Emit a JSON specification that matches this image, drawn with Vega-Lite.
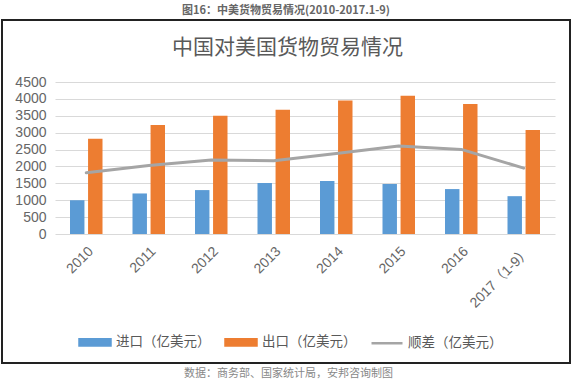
{
  "$schema": "https://vega.github.io/schema/vega-lite/v6.json",
  "autosize": "none",
  "width": 568,
  "height": 343,
  "padding": {"left": 2, "top": 20, "right": 6, "bottom": 20},
  "background": "white",
  "title": {"text": "图16：中美货物贸易情况(2010-2017.1-9)", "fontSize": 11, "fontWeight": "bold", "color": "#666666", "font": "Noto Sans CJK SC", "anchor": "middle", "offset": 4},
  "data": {"values": [
    {"year": "2010", "series": "进口（亿美元）", "value": 1000},
    {"year": "2010", "series": "出口（亿美元）", "value": 2820},
    {"year": "2010", "series": "顺差（亿美元）", "value": 1810},
    {"year": "2011", "series": "进口（亿美元）", "value": 1200},
    {"year": "2011", "series": "出口（亿美元）", "value": 3230},
    {"year": "2011", "series": "顺差（亿美元）", "value": 2030},
    {"year": "2012", "series": "进口（亿美元）", "value": 1300},
    {"year": "2012", "series": "出口（亿美元）", "value": 3500},
    {"year": "2012", "series": "顺差（亿美元）", "value": 2190},
    {"year": "2013", "series": "进口（亿美元）", "value": 1510},
    {"year": "2013", "series": "出口（亿美元）", "value": 3680},
    {"year": "2013", "series": "顺差（亿美元）", "value": 2170},
    {"year": "2014", "series": "进口（亿美元）", "value": 1570},
    {"year": "2014", "series": "出口（亿美元）", "value": 3955},
    {"year": "2014", "series": "顺差（亿美元）", "value": 2380},
    {"year": "2015", "series": "进口（亿美元）", "value": 1480},
    {"year": "2015", "series": "出口（亿美元）", "value": 4090},
    {"year": "2015", "series": "顺差（亿美元）", "value": 2605},
    {"year": "2016", "series": "进口（亿美元）", "value": 1330},
    {"year": "2016", "series": "出口（亿美元）", "value": 3850},
    {"year": "2016", "series": "顺差（亿美元）", "value": 2505},
    {"year": "2017（1-9）", "series": "进口（亿美元）", "value": 1120},
    {"year": "2017（1-9）", "series": "出口（亿美元）", "value": 3080},
    {"year": "2017（1-9）", "series": "顺差（亿美元）", "value": 1950}
  ]},
  "encoding": {
    "x": {
      "field": "year", "type": "ordinal", "sort": null,
      "scale": {"range": [53, 553], "paddingInner": 0.48, "paddingOuter": 0.24},
      "axis": {
        "title": "数据：商务部、国家统计局，安邦咨询制图",
        "titleX": 286, "titleY": 139, "titleAlign": "center", "titleBaseline": "middle",
        "titleFontSize": 11, "titleFontWeight": "normal", "titleColor": "#888888", "titleFont": "Noto Sans CJK SC",
        "offset": -129, "labelAngle": -45, "labelFontSize": 14, "labelColor": "#666666",
        "labelFont": "Liberation Sans, Noto Sans CJK SC", "labelPadding": 10,
        "ticks": false, "tickSize": 0, "domain": false, "grid": false, "labelLimit": 0
      }
    },
    "y": {
      "field": "value", "type": "quantitative",
      "scale": {"domain": [0, 4500], "range": [214, 62], "nice": false, "zero": true},
      "axis": {
        "title": "中国对美国货物贸易情况",
        "titleAngle": 0, "titleX": 232, "titleY": 27, "titleAlign": "center", "titleBaseline": "middle",
        "titleFontSize": 21, "titleFontWeight": "normal", "titleColor": "#595959", "titleFont": "Noto Sans CJK SC",
        "offset": -53, "domain": false, "ticks": false, "tickSize": 0, "labelPadding": 9, "format": "d",
        "labelFontSize": 14, "labelColor": "#666666", "labelFont": "Liberation Sans",
        "values": [0, 500, 1000, 1500, 2000, 2500, 3000, 3500, 4000, 4500],
        "grid": true, "gridColor": "#d9d9d9", "gridWidth": 1
      }
    },
    "color": {
      "field": "series", "type": "nominal",
      "scale": {"domain": ["进口（亿美元）", "出口（亿美元）", "顺差（亿美元）"], "range": ["#5b9bd5", "#ed7d31", "#a5a5a5"]},
      "legend": {
        "title": null, "orient": "none", "direction": "horizontal", "legendX": 76, "legendY": 305,
        "symbolSize": 961, "labelOffset": 4, "columnPadding": 9,
        "labelFontSize": 13.5, "labelColor": "#595959", "labelFont": "Noto Sans CJK SC", "labelLimit": 0,
        "encode": {
          "symbols": {
            "update": {
              "shape": {"signal": "datum.value === '顺差（亿美元）' ? 'M-1,0H1' : 'M-1,-0.2H1V0.2H-1Z'"},
              "fill": {"signal": "datum.value === '顺差（亿美元）' ? 'transparent' : scale('color', datum.value)"},
              "stroke": {"signal": "datum.value === '顺差（亿美元）' ? '#a5a5a5' : 'transparent'"},
              "strokeWidth": {"value": 2.5},
              "opacity": {"value": 1}
            }
          }
        }
      }
    }
  },
  "layer": [
    {
      "transform": [{"filter": "datum.series !== '顺差（亿美元）'"}],
      "mark": {"type": "bar"},
      "encoding": {
        "xOffset": {"field": "series", "type": "nominal", "sort": ["进口（亿美元）", "出口（亿美元）"], "scale": {"paddingInner": 0.2}}
      }
    },
    {
      "transform": [{"filter": "datum.series === '顺差（亿美元）'"}],
      "mark": {"type": "line", "strokeWidth": 3, "strokeJoin": "round", "strokeCap": "round"}
    }
  ],
  "config": {
    "view": {"stroke": "#222222", "strokeWidth": 2}
  }
}
